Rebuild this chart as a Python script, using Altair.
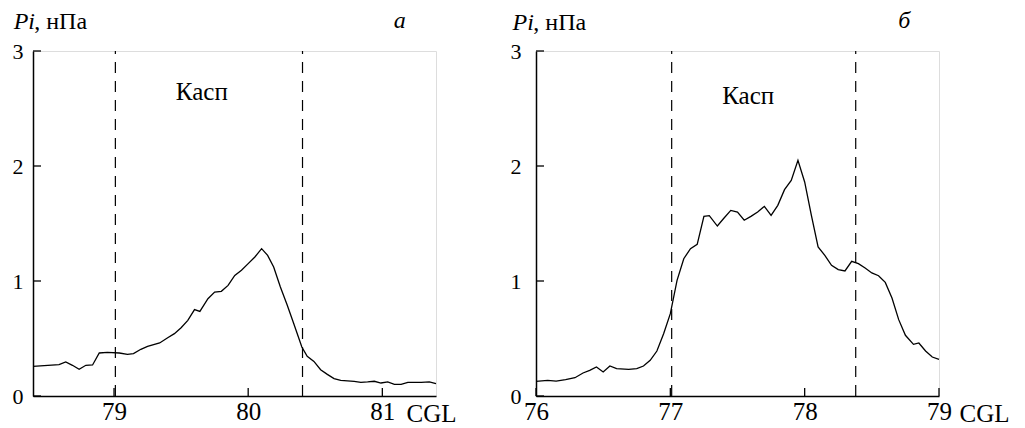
import altair as alt
import pandas as pd

# ---------------- data ----------------
left_x = [78.396, 78.59, 78.64, 78.69, 78.74, 78.79, 78.84, 78.89, 78.95, 79.04,
          79.10, 79.145, 79.20, 79.25, 79.34, 79.40, 79.45, 79.50, 79.55, 79.60,
          79.64, 79.70, 79.75, 79.80, 79.85, 79.90, 79.95, 80.00, 80.05, 80.10,
          80.145, 80.19, 80.24, 80.29, 80.34, 80.40, 80.44, 80.49, 80.54, 80.59,
          80.64, 80.69, 80.79, 80.84, 80.89, 80.94, 80.99, 81.04, 81.09, 81.14,
          81.19, 81.29, 81.35, 81.40]
left_y = [0.258, 0.272, 0.296, 0.267, 0.232, 0.267, 0.270, 0.374, 0.380, 0.374,
          0.362, 0.368, 0.406, 0.432, 0.461, 0.507, 0.542, 0.594, 0.658, 0.751,
          0.736, 0.846, 0.904, 0.910, 0.962, 1.049, 1.093, 1.151, 1.209, 1.281,
          1.223, 1.122, 0.948, 0.794, 0.629, 0.426, 0.345, 0.301, 0.229, 0.188,
          0.151, 0.136, 0.128, 0.119, 0.122, 0.128, 0.113, 0.122, 0.101, 0.101,
          0.119, 0.119, 0.122, 0.107]

right_x = [76.0, 76.087, 76.15, 76.22, 76.29, 76.35, 76.40, 76.45, 76.50, 76.55,
           76.60, 76.69, 76.75, 76.80, 76.85, 76.90, 76.95, 77.0, 77.05, 77.10,
           77.15, 77.20, 77.25, 77.29, 77.35, 77.40, 77.45, 77.50, 77.55, 77.60,
           77.65, 77.70, 77.75, 77.80, 77.85, 77.90, 77.95, 78.0, 78.05, 78.10,
           78.15, 78.20, 78.25, 78.30, 78.35, 78.40, 78.45, 78.50, 78.55, 78.60,
           78.65, 78.70, 78.75, 78.81, 78.85, 78.90, 78.95, 79.0]
right_y = [0.128, 0.136, 0.130, 0.142, 0.159, 0.200, 0.223, 0.252, 0.209, 0.261,
           0.238, 0.232, 0.238, 0.261, 0.310, 0.391, 0.542, 0.716, 1.006, 1.194,
           1.281, 1.319, 1.562, 1.568, 1.478, 1.548, 1.614, 1.600, 1.528, 1.562,
           1.600, 1.649, 1.571, 1.658, 1.794, 1.875, 2.049, 1.861, 1.571, 1.296,
           1.223, 1.136, 1.099, 1.087, 1.171, 1.151, 1.113, 1.070, 1.046, 0.988,
           0.852, 0.664, 0.528, 0.449, 0.461, 0.391, 0.339, 0.319]

left_cusp = [79.01, 80.405]
right_cusp = [77.01, 78.38]
left_domain = [78.396, 81.4]
right_domain = [76.0, 79.0]
left_xticks = [79, 80, 81]
right_xticks = [76, 77, 78, 79]
y_ticks = [0, 1, 2, 3]
y_domain = [0, 3]

cusp_label = "Касп"
unit_italic = "Pi"
unit_rest = ", нПа"
axis_x_title = "CGL"
letters = ["а", "б"]

# annotation anchors in data units: (x, y)
left_ann = {"pi": (78.252, 3.19), "rest": (78.405, 3.19), "letter": (81.085, 3.197), "cusp": (79.461, 2.571)}
right_ann = {"pi": (75.825, 3.186), "rest": (75.98, 3.186), "letter": (78.697, 3.197), "cusp": (77.386, 2.543)}

FONT = "Tinos, 'Liberation Serif', 'Times New Roman', Times, 'Nimbus Roman', 'DejaVu Serif', 'Noto Serif', serif"
W, H = 403, 345


def panel(xs, ys, domain, xticks, cusps, letter, ann, cgl_x, ypad):
    xscale = alt.Scale(domain=domain, nice=False, zero=False)
    yscale = alt.Scale(domain=y_domain, nice=False, zero=False)
    df = pd.DataFrame({"x": xs, "y": ys})

    line = alt.Chart(df).mark_line(color="black", strokeWidth=1.3).encode(
        x=alt.X("x:Q", scale=xscale, axis=alt.Axis(
            values=xticks, format="d", title=axis_x_title, titleX=cgl_x, titleY=25,
            titleAlign="left", titleBaseline="alphabetic", titleAngle=0,
            titleFont=FONT, titleFontSize=25, titleFontWeight="normal", titleColor="black",
            ticks=False, tickSize=0, grid=False, domainColor="black", domainWidth=1.5,
            labelFont=FONT, labelFontSize=25, labelColor="black", labelPadding=3,
            labelFlush=False)),
        y=alt.Y("y:Q", scale=yscale, axis=alt.Axis(
            values=y_ticks, format="d", title=None, ticks=False, tickSize=0, grid=False,
            domainColor="black", domainWidth=1.5, labelFont=FONT, labelFontSize=22,
            labelColor="black", labelPadding=ypad, labelFlush=False)),
    )

    span_x = domain[1] - domain[0]
    xt = pd.DataFrame({"x": xticks, "y0": [0] * len(xticks), "y1": [8 / H * 3] * len(xticks)})
    xtick_rules = alt.Chart(xt).mark_rule(color="black", strokeWidth=1.3).encode(
        x="x:Q", y="y0:Q", y2="y1:Q")
    yt = pd.DataFrame({"y": y_ticks, "x0": [domain[0]] * len(y_ticks),
                       "x1": [domain[0] + 8 / W * span_x] * len(y_ticks)})
    ytick_rules = alt.Chart(yt).mark_rule(color="black", strokeWidth=1.3).encode(
        y="y:Q", x="x0:Q", x2="x1:Q")

    cdf = pd.DataFrame({"x": cusps, "y0": [y_domain[0]] * 2, "y1": [y_domain[1]] * 2})
    cusp_rules = alt.Chart(cdf).mark_rule(color="black", strokeWidth=1.2,
                                          strokeDash=[11, 8]).encode(
        x="x:Q", y="y0:Q", y2="y1:Q")

    def txt(key, text, size, style):
        d = pd.DataFrame({"x": [ann[key][0]], "y": [ann[key][1]], "t": [text]})
        return alt.Chart(d).mark_text(font=FONT, fontSize=size, fontStyle=style,
                                      align="left", baseline="alphabetic",
                                      color="black").encode(x="x:Q", y="y:Q", text="t:N")

    texts = (txt("pi", unit_italic, 24, "italic") + txt("rest", unit_rest, 24, "normal")
             + txt("letter", letter, 24, "italic") + txt("cusp", cusp_label, 25, "normal"))

    return alt.layer(cusp_rules, line, xtick_rules, ytick_rules, texts).properties(
        width=W, height=H)


left = panel(left_x, left_y, left_domain, left_xticks, left_cusp, letters[0], left_ann, 373, 10)
right = panel(right_x, right_y, right_domain, right_xticks, right_cusp, letters[1], right_ann, 423, 15)

chart = alt.hconcat(left, right, spacing=52).properties(
    padding={"left": 3, "top": 0, "right": 0, "bottom": 0}
).configure_view(stroke=None).configure(background="white", font=FONT)

chart.save("out.html", embed_options={"renderer": "svg", "actions": False})
